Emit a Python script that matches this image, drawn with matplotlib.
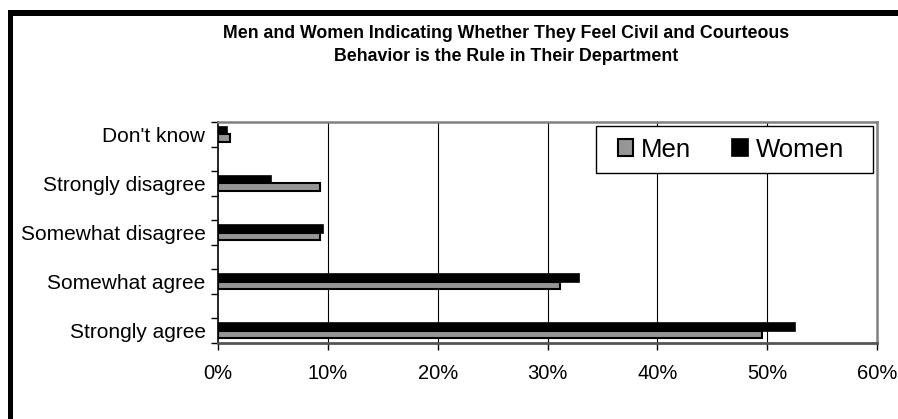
import matplotlib
matplotlib.use("Agg")
import matplotlib.pyplot as plt
from matplotlib.patches import Rectangle
from matplotlib.ticker import FixedLocator, FuncFormatter

plt.rcParams['font.family'] = ['Liberation Sans', 'DejaVu Sans']

title = "Men and Women Indicating Whether They Feel Civil and Courteous\nBehavior is the Rule in Their Department"
categories = ["Strongly agree", "Somewhat agree", "Somewhat disagree",
              "Strongly disagree", "Don't know"]
men = [49.5, 31.1, 9.25, 9.25, 1.1]
women = [52.5, 32.9, 9.6, 4.8, 0.8]
x_ticks = [0, 10, 20, 30, 40, 50, 60]

W, H = 898, 419
fig = plt.figure(figsize=(W / 100, H / 100), dpi=100)

# chart frame (top and left edges)
fig.add_artist(Rectangle((8 / W, 1 - 16 / H), (W - 8) / W, 6 / H,
                         transform=fig.transFigure, color='black', lw=0))
fig.add_artist(Rectangle((8 / W, 0), 5 / W, 1 - 10 / H,
                         transform=fig.transFigure, color='black', lw=0))

ax = fig.add_axes([218 / W, 1 - 343 / H, 659 / W, 221 / H])

pos = [2 * i for i in range(len(categories))]
bh = 0.3
ax.barh([p + bh / 2 for p in pos], women, height=bh, color='black',
        edgecolor='black', linewidth=1.2, label='Women', zorder=3)
ax.barh([p - bh / 2 for p in pos], men, height=bh, color='#969696',
        edgecolor='black', linewidth=1.5, label='Men', zorder=3)

ax.set_xlim(0, 60)
ax.set_ylim(-0.5, 2 * len(categories) - 1.5)
ax.set_xticks(x_ticks)
ax.xaxis.set_major_formatter(FuncFormatter(lambda v, _: f"{v:.0f}%"))
ax.set_yticks(pos)
ax.set_yticklabels(categories)
ax.yaxis.set_minor_locator(FixedLocator([i - 0.5 for i in range(2 * len(categories))]))
ax.tick_params(axis='y', which='major', length=0, pad=9, labelsize=15)
ax.tick_params(axis='y', which='minor', length=5, width=1, direction='out')
ax.tick_params(axis='x', which='major', length=5, width=1, direction='out',
               pad=10, labelsize=14.5)

for v in x_ticks[1:-1]:
    ax.axvline(v, color='black', lw=0.8, zorder=1)

ax.spines['left'].set_color('black')
ax.spines['left'].set_linewidth(1.2)
ax.spines['bottom'].set_color('#555555')
ax.spines['bottom'].set_linewidth(2)
ax.spines['top'].set_color('#808080')
ax.spines['top'].set_linewidth(1.8)
ax.spines['right'].set_color('#808080')
ax.spines['right'].set_linewidth(1.8)

# legend box with white fill, entries placed inside it
box = Rectangle((596 / W, 1 - 173 / H), 277 / W, 47 / H,
                transform=fig.transFigure, facecolor='white',
                edgecolor='black', lw=1.0, zorder=5)
fig.add_artist(box)

h, l = ax.get_legend_handles_labels()
leg = fig.legend(h[::-1], l[::-1], loc='center left',
                 bbox_to_anchor=(618 / W, 1 - 149.5 / H), ncol=2,
                 fontsize=18.5, frameon=False,
                 handlelength=0.6, handleheight=0.6, handletextpad=0.3,
                 columnspacing=1.6, borderpad=0, borderaxespad=0)
leg.set_zorder(6)

fig.text(506 / W, 1 - 45 / H, title, ha='center', va='center',
         fontsize=12.8, fontweight='bold', linespacing=1.45)

fig.savefig("out.png", dpi=100)
